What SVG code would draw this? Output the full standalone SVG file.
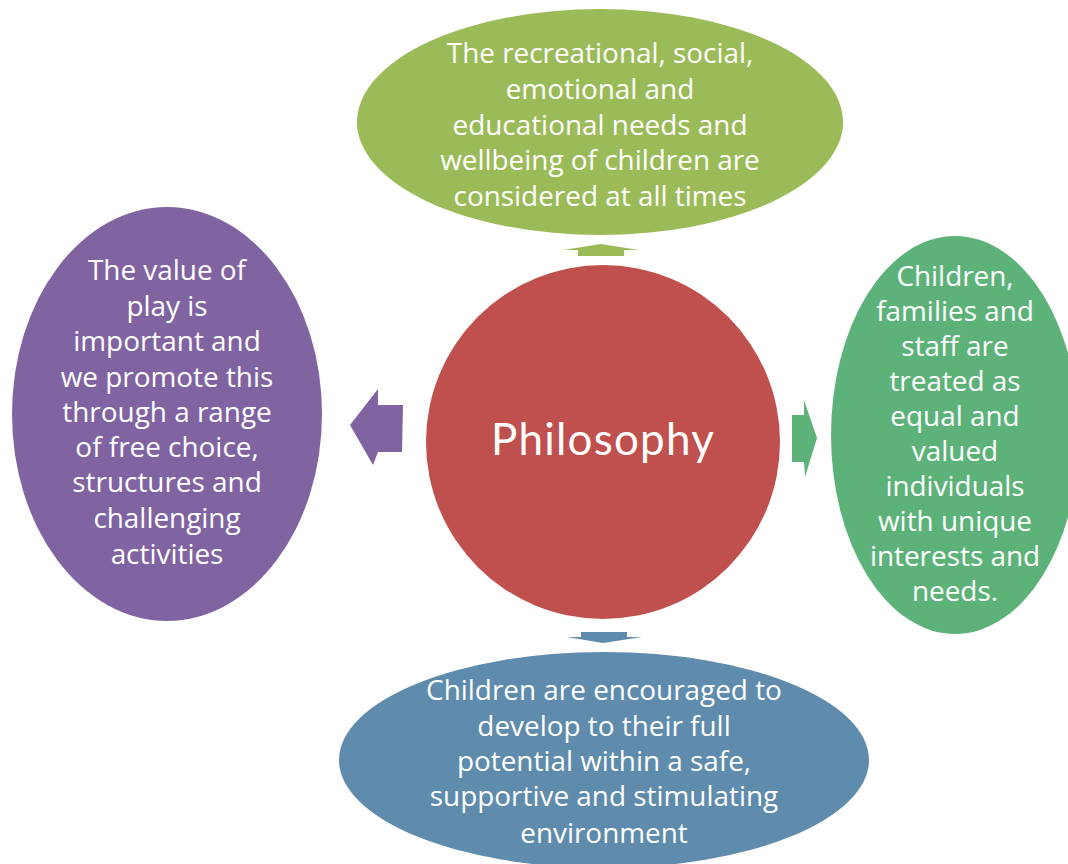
<svg xmlns="http://www.w3.org/2000/svg" width="1068" height="864" viewBox="0 0 1068 864">
  <style>
    .t { font-family: "Open Sans", "Liberation Sans", sans-serif; font-size: 27.9px; fill: #ffffff; text-anchor: middle; }
    .title { font-family: "Lato", "Open Sans", sans-serif; font-size: 44px; fill: #ffffff; text-anchor: middle; letter-spacing: 1.2px; }
  </style>
  <rect width="1068" height="864" fill="#ffffff"/>

  <!-- block arrows pointing out from the centre circle -->
  <g id="connectors">
    <polygon points="601,244 639,250 624,250 624,256 578,256 578,250 563,250" fill="#9BBB59"/>
    <polygon points="350,425 378,389 378,405 403,405 402,452 378,452 373,465" fill="#8064A2"/>
    <polygon points="817,438 804,400 804,415 792,415 792,462 804,462 805,477" fill="#5DB27A"/>
    <polygon points="603,643 642,637 627,637 627,632 581,632 581,637 567,637" fill="#5F8BAC"/>
  </g>

  <g id="node-top">
    <ellipse cx="600" cy="122" rx="243" ry="113" fill="#9BBB59"/>
    <text class="t" x="600" y="63">The recreational, social,</text>
    <text class="t" x="600" y="99">emotional and</text>
    <text class="t" x="600" y="135">educational needs and</text>
    <text class="t" x="600" y="170">wellbeing of children are</text>
    <text class="t" x="600" y="206">considered at all times</text>
  </g>

  <g id="node-center">
    <circle cx="603" cy="442" r="177" fill="#C0504D"/>
    <text class="title" x="603" y="455">Philosophy</text>
  </g>

  <g id="node-left">
    <ellipse cx="167" cy="414" rx="155" ry="207" fill="#8064A2"/>
    <text class="t" x="167" y="280">The value of</text>
    <text class="t" x="167" y="316">play is</text>
    <text class="t" x="167" y="351">important and</text>
    <text class="t" x="167" y="387">we promote this</text>
    <text class="t" x="167" y="422">through a range</text>
    <text class="t" x="167" y="457">of free choice,</text>
    <text class="t" x="167" y="492">structures and</text>
    <text class="t" x="167" y="528">challenging</text>
    <text class="t" x="167" y="564">activities</text>
  </g>

  <g id="node-right">
    <ellipse cx="955" cy="435" rx="124" ry="199" fill="#5DB27A"/>
    <text class="t" x="955" y="286">Children,</text>
    <text class="t" x="955" y="321">families and</text>
    <text class="t" x="955" y="356">staff are</text>
    <text class="t" x="955" y="391">treated as</text>
    <text class="t" x="955" y="426">equal and</text>
    <text class="t" x="955" y="461">valued</text>
    <text class="t" x="955" y="496">individuals</text>
    <text class="t" x="955" y="531">with unique</text>
    <text class="t" x="955" y="566">interests and</text>
    <text class="t" x="955" y="601">needs.</text>
  </g>

  <g id="node-bottom">
    <ellipse cx="604" cy="760" rx="265" ry="108" fill="#5F8BAC"/>
    <text class="t" x="604" y="700">Children are encouraged to</text>
    <text class="t" x="604" y="736">develop to their full</text>
    <text class="t" x="604" y="771">potential within a safe,</text>
    <text class="t" x="604" y="806">supportive and stimulating</text>
    <text class="t" x="604" y="843">environment</text>
  </g>
</svg>
